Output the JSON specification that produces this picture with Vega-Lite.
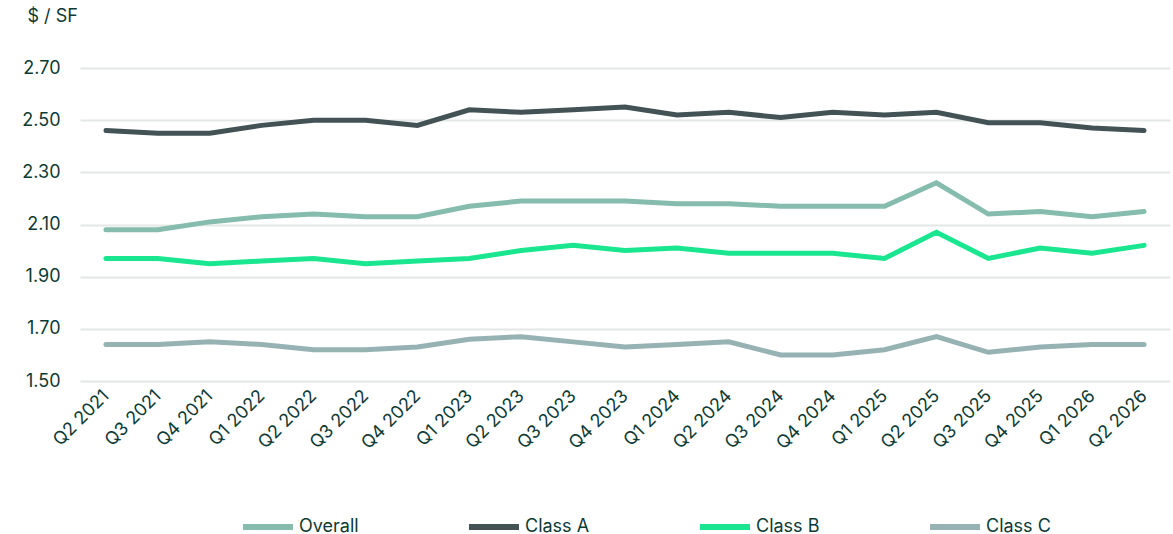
{
  "$schema": "https://vega.github.io/schema/vega-lite/v6.json",
  "width": 1090,
  "height": 313,
  "autosize": "none",
  "padding": {"left": 80, "top": 68, "right": 3, "bottom": 153},
  "background": "white",
  "config": {
    "view": {"stroke": null},
    "font": "Inter",
    "axis": {"labelColor": "#0E3A34", "titleColor": "#0E3A34", "labelFont": "Inter", "titleFont": "Inter"},
    "legend": {"labelColor": "#0E3A34", "labelFont": "Inter"}
  },
  "data": {
    "values": [
      {"q": "Q2 2021", "s": "Overall", "v": 2.08}, {"q": "Q3 2021", "s": "Overall", "v": 2.08}, {"q": "Q4 2021", "s": "Overall", "v": 2.11}, {"q": "Q1 2022", "s": "Overall", "v": 2.13}, {"q": "Q2 2022", "s": "Overall", "v": 2.14}, {"q": "Q3 2022", "s": "Overall", "v": 2.13}, {"q": "Q4 2022", "s": "Overall", "v": 2.13}, {"q": "Q1 2023", "s": "Overall", "v": 2.17}, {"q": "Q2 2023", "s": "Overall", "v": 2.19}, {"q": "Q3 2023", "s": "Overall", "v": 2.19}, {"q": "Q4 2023", "s": "Overall", "v": 2.19}, {"q": "Q1 2024", "s": "Overall", "v": 2.18}, {"q": "Q2 2024", "s": "Overall", "v": 2.18}, {"q": "Q3 2024", "s": "Overall", "v": 2.17}, {"q": "Q4 2024", "s": "Overall", "v": 2.17}, {"q": "Q1 2025", "s": "Overall", "v": 2.17}, {"q": "Q2 2025", "s": "Overall", "v": 2.26}, {"q": "Q3 2025", "s": "Overall", "v": 2.14}, {"q": "Q4 2025", "s": "Overall", "v": 2.15}, {"q": "Q1 2026", "s": "Overall", "v": 2.13}, {"q": "Q2 2026", "s": "Overall", "v": 2.15},
      {"q": "Q2 2021", "s": "Class A", "v": 2.46}, {"q": "Q3 2021", "s": "Class A", "v": 2.45}, {"q": "Q4 2021", "s": "Class A", "v": 2.45}, {"q": "Q1 2022", "s": "Class A", "v": 2.48}, {"q": "Q2 2022", "s": "Class A", "v": 2.50}, {"q": "Q3 2022", "s": "Class A", "v": 2.50}, {"q": "Q4 2022", "s": "Class A", "v": 2.48}, {"q": "Q1 2023", "s": "Class A", "v": 2.54}, {"q": "Q2 2023", "s": "Class A", "v": 2.53}, {"q": "Q3 2023", "s": "Class A", "v": 2.54}, {"q": "Q4 2023", "s": "Class A", "v": 2.55}, {"q": "Q1 2024", "s": "Class A", "v": 2.52}, {"q": "Q2 2024", "s": "Class A", "v": 2.53}, {"q": "Q3 2024", "s": "Class A", "v": 2.51}, {"q": "Q4 2024", "s": "Class A", "v": 2.53}, {"q": "Q1 2025", "s": "Class A", "v": 2.52}, {"q": "Q2 2025", "s": "Class A", "v": 2.53}, {"q": "Q3 2025", "s": "Class A", "v": 2.49}, {"q": "Q4 2025", "s": "Class A", "v": 2.49}, {"q": "Q1 2026", "s": "Class A", "v": 2.47}, {"q": "Q2 2026", "s": "Class A", "v": 2.46},
      {"q": "Q2 2021", "s": "Class B", "v": 1.97}, {"q": "Q3 2021", "s": "Class B", "v": 1.97}, {"q": "Q4 2021", "s": "Class B", "v": 1.95}, {"q": "Q1 2022", "s": "Class B", "v": 1.96}, {"q": "Q2 2022", "s": "Class B", "v": 1.97}, {"q": "Q3 2022", "s": "Class B", "v": 1.95}, {"q": "Q4 2022", "s": "Class B", "v": 1.96}, {"q": "Q1 2023", "s": "Class B", "v": 1.97}, {"q": "Q2 2023", "s": "Class B", "v": 2.00}, {"q": "Q3 2023", "s": "Class B", "v": 2.02}, {"q": "Q4 2023", "s": "Class B", "v": 2.00}, {"q": "Q1 2024", "s": "Class B", "v": 2.01}, {"q": "Q2 2024", "s": "Class B", "v": 1.99}, {"q": "Q3 2024", "s": "Class B", "v": 1.99}, {"q": "Q4 2024", "s": "Class B", "v": 1.99}, {"q": "Q1 2025", "s": "Class B", "v": 1.97}, {"q": "Q2 2025", "s": "Class B", "v": 2.07}, {"q": "Q3 2025", "s": "Class B", "v": 1.97}, {"q": "Q4 2025", "s": "Class B", "v": 2.01}, {"q": "Q1 2026", "s": "Class B", "v": 1.99}, {"q": "Q2 2026", "s": "Class B", "v": 2.02},
      {"q": "Q2 2021", "s": "Class C", "v": 1.64}, {"q": "Q3 2021", "s": "Class C", "v": 1.64}, {"q": "Q4 2021", "s": "Class C", "v": 1.65}, {"q": "Q1 2022", "s": "Class C", "v": 1.64}, {"q": "Q2 2022", "s": "Class C", "v": 1.62}, {"q": "Q3 2022", "s": "Class C", "v": 1.62}, {"q": "Q4 2022", "s": "Class C", "v": 1.63}, {"q": "Q1 2023", "s": "Class C", "v": 1.66}, {"q": "Q2 2023", "s": "Class C", "v": 1.67}, {"q": "Q3 2023", "s": "Class C", "v": 1.65}, {"q": "Q4 2023", "s": "Class C", "v": 1.63}, {"q": "Q1 2024", "s": "Class C", "v": 1.64}, {"q": "Q2 2024", "s": "Class C", "v": 1.65}, {"q": "Q3 2024", "s": "Class C", "v": 1.60}, {"q": "Q4 2024", "s": "Class C", "v": 1.60}, {"q": "Q1 2025", "s": "Class C", "v": 1.62}, {"q": "Q2 2025", "s": "Class C", "v": 1.67}, {"q": "Q3 2025", "s": "Class C", "v": 1.61}, {"q": "Q4 2025", "s": "Class C", "v": 1.63}, {"q": "Q1 2026", "s": "Class C", "v": 1.64}, {"q": "Q2 2026", "s": "Class C", "v": 1.64}
    ]
  },
  "mark": {"type": "line", "strokeWidth": 5, "strokeCap": "round", "strokeJoin": "miter"},
  "encoding": {
    "x": {
      "field": "q", "type": "ordinal", "sort": null,
      "scale": {"type": "point", "padding": 0.5},
      "axis": {"title": null, "labelAngle": -45, "labelAlign": "right", "labelBaseline": "middle", "labelFontSize": 18, "labelPadding": 12, "ticks": false, "domain": false, "grid": false}
    },
    "y": {
      "field": "v", "type": "quantitative",
      "scale": {"domain": [1.5, 2.7], "zero": false, "nice": false},
      "axis": {
        "values": [1.5, 1.7, 1.9, 2.1, 2.3, 2.5, 2.7], "format": ".2f",
        "title": "$ / SF", "titleAngle": 0, "titleAlign": "left", "titleBaseline": "middle", "titleX": -53, "titleY": -52, "titleFontSize": 18, "titleFontWeight": "normal",
        "labelFontSize": 18, "labelPadding": 20, "ticks": false, "domain": false,
        "grid": true, "gridColor": "#E3E8E7", "gridWidth": 2
      }
    },
    "color": {
      "field": "s", "type": "nominal",
      "scale": {"domain": ["Overall", "Class A", "Class B", "Class C"], "range": ["#86BCAD", "#435254", "#19E68F", "#97B2B3"]},
      "legend": {
        "title": null, "orient": "none", "direction": "horizontal", "legendX": 160, "legendY": 431,
        "symbolType": "stroke", "symbolSize": 2500, "symbolStrokeWidth": 6,
        "labelFontSize": 18, "labelOffset": 3, "columnPadding": 98
      }
    }
  }
}
